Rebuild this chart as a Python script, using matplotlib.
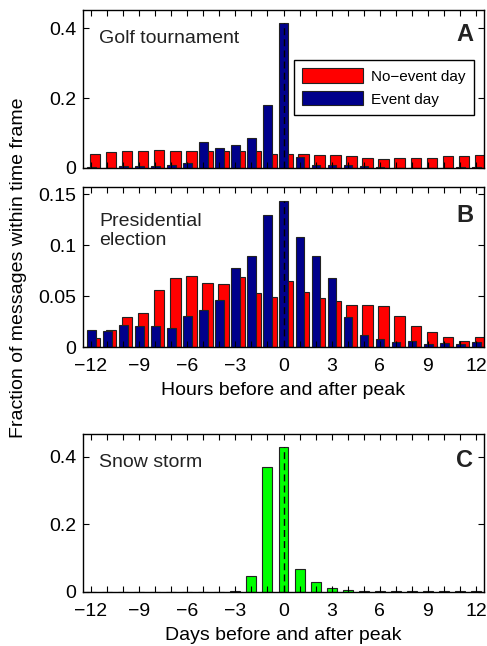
import numpy as np
import matplotlib
matplotlib.use("Agg")
import matplotlib.pyplot as plt
from matplotlib.ticker import MultipleLocator

plt.rcParams['font.family'] = ['Liberation Sans', 'DejaVu Sans']

# offsets from the peak (hours / days)
offsets = np.arange(-12, 13)

# panel A: golf tournament
golf_noevent = [0.040, 0.045, 0.048, 0.050, 0.052, 0.048, 0.049, 0.048, 0.049, 0.048,
                0.048, 0.039, 0.040, 0.041, 0.036, 0.037, 0.034, 0.030, 0.025, 0.028,
                0.028, 0.028, 0.034, 0.034, 0.037]
golf_event = [0.002, 0.001, 0.005, 0.007, 0.007, 0.008, 0.013, 0.074, 0.058, 0.065,
              0.087, 0.182, 0.416, 0.032, 0.010, 0.009, 0.008, 0.005, 0.002, 0.001,
              0.001, 0.001, 0.001, 0.002, 0.002]

# panel B: presidential election
elec_noevent = [0.0092, 0.0168, 0.029, 0.033, 0.056, 0.068, 0.070, 0.0625, 0.0615, 0.069,
                0.0526, 0.0487, 0.0645, 0.0536, 0.0477, 0.0447, 0.0408, 0.0408, 0.040, 0.030,
                0.0207, 0.0145, 0.0095, 0.0062, 0.0099]
elec_event = [0.0164, 0.0155, 0.0214, 0.0207, 0.0204, 0.0184, 0.030, 0.036, 0.046, 0.078,
              0.0895, 0.1296, 0.1428, 0.108, 0.089, 0.068, 0.029, 0.0115, 0.0079, 0.0046,
              0.0062, 0.0026, 0.0036, 0.0026, 0.0046]

# panel C: snow storm (days)
snow = [0.001, 0.001, 0.001, 0.001, 0.001, 0.001, 0.001, 0.001, 0.001, 0.004,
        0.046, 0.369, 0.428, 0.069, 0.030, 0.011, 0.005, 0.004, 0.002, 0.002,
        0.002, 0.002, 0.002, 0.004, 0.004]

RED = '#ff0000'
BLUE = '#00008b'
GREEN = '#00ff00'
FS = 14

fig = plt.figure(figsize=(4.87, 6.46), dpi=100)
W, H = 487.0, 646.0
left = 83 / W
width = 401 / W
axA = fig.add_axes([left, 1 - 168 / H, width, 158 / H])
axB = fig.add_axes([left, 1 - 347 / H, width, 160 / H])
axC = fig.add_axes([left, 1 - 592 / H, width, 158 / H])


def style(ax, ylim, yticks, ylabels, show_x=True):
    ax.set_xlim(-12.5, 12.5)
    ax.set_ylim(*ylim)
    ax.xaxis.set_major_locator(MultipleLocator(3))
    ax.xaxis.set_minor_locator(MultipleLocator(1))
    ax.set_yticks(yticks)
    ax.set_yticklabels(ylabels)
    ax.tick_params(which='both', direction='in', top=True, right=True,
                   length=4, width=0.8, labelsize=FS, pad=5)
    ax.tick_params(axis='x', pad=8)
    if not show_x:
        ax.tick_params(labelbottom=False)
    for s in ax.spines.values():
        s.set_linewidth(1.0)


# A
axA.bar(offsets + 0.25, golf_noevent, width=0.66, color=RED, edgecolor='#222222',
        linewidth=0.8, label='No\u2212event day')
axA.bar(offsets + 0.02, golf_event, width=0.54, color=BLUE, edgecolor='#222222',
        linewidth=0.8, label='Event day')
axA.plot([0, 0], [0, golf_event[12]], 'k--', lw=1.0, dashes=(5, 3))
style(axA, (0, 0.453), [0, 0.2, 0.4], ['0', '0.2', '0.4'], show_x=False)
axA.text(0.041, 0.818, 'Golf tournament', transform=axA.transAxes, fontsize=FS,
         va='center', ha='left', color='#222222')
axA.text(0.973, 0.842, 'A', transform=axA.transAxes, fontsize=17, fontweight='bold',
         va='center', ha='right', color='#222222')
leg = axA.legend(loc='upper right', bbox_to_anchor=(0.975, 0.684), fontsize=11,
                 handlelength=4.0, handleheight=1.05, handletextpad=0.5,
                 labelspacing=0.5, borderpad=0.55, borderaxespad=0,
                 fancybox=False, framealpha=1, edgecolor='k')
leg.get_frame().set_linewidth(1.0)

# B
axB.bar(offsets + 0.25, elec_noevent, width=0.66, color=RED, edgecolor='#222222',
        linewidth=0.8)
axB.bar(offsets + 0.02, elec_event, width=0.54, color=BLUE, edgecolor='#222222',
        linewidth=0.8)
axB.plot([0, 0], [0, elec_event[12]], 'k--', lw=1.0, dashes=(5, 3))
style(axB, (0, 0.157), [0, 0.05, 0.1, 0.15], ['0', '0.05', '0.1', '0.15'])
axB.set_xlabel('Hours before and after peak', fontsize=FS, labelpad=5)
axB.text(0.041, 0.723, 'Presidential\nelection', transform=axB.transAxes, fontsize=FS,
         va='center', ha='left', color='#222222', linespacing=1.15)
axB.text(0.973, 0.825, 'B', transform=axB.transAxes, fontsize=17, fontweight='bold',
         va='center', ha='right', color='#222222')

# C
axC.bar(offsets, snow, width=0.62, color=GREEN, edgecolor='#222222', linewidth=0.8)
axC.plot([0, 0], [0, snow[12]], 'k--', lw=1.0, dashes=(5, 3))
style(axC, (0, 0.467), [0, 0.2, 0.4], ['0', '0.2', '0.4'])
axC.set_xlabel('Days before and after peak', fontsize=FS, labelpad=5)
axC.text(0.041, 0.818, 'Snow storm', transform=axC.transAxes, fontsize=FS,
         va='center', ha='left', color='#222222')
axC.text(0.973, 0.835, 'C', transform=axC.transAxes, fontsize=17, fontweight='bold',
         va='center', ha='right', color='#222222')

fig.text(0.038, 0.586, 'Fraction of messages within time frame', rotation=90,
         fontsize=FS, va='center', ha='center')

fig.savefig('out.png', dpi=100)
